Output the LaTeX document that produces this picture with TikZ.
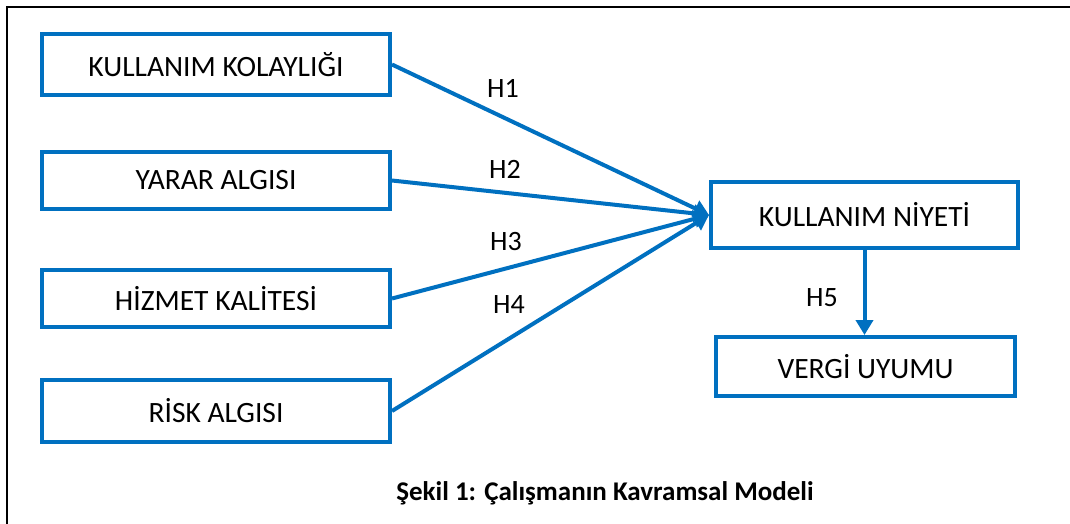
\documentclass[tikz,border=0pt]{standalone}
\usepackage{fontspec}
\setmainfont{Carlito}
\usetikzlibrary{arrows.meta}
\definecolor{boxblue}{RGB}{0,112,192}
\tikzset{
  box/.style={draw=boxblue, line width=4pt, fill=white, minimum width=348pt, inner sep=0pt, font=\fontsize{29.5}{33}\selectfont, text=black},
  link/.style={draw=boxblue, line width=4pt, -{Triangle[length=15pt,width=17pt]}},
  hlabel/.style={font=\fontsize{28}{31}\selectfont, text=black, inner sep=0pt},
}
\begin{document}
\begin{tikzpicture}[x=1pt,y=-1pt]
\useasboundingbox (0,0) rectangle (1070,523);
\fill[white] (0,0) rectangle (1070,523);
\draw[black, line width=2.5pt] (7,540) -- (7,7) -- (1090,7);
\node[box, minimum height=61pt] (k1) at (216,64.5) {KULLANIM KOLAYLIĞI};
\node[box, minimum height=57pt] (k2) at (216,180.5) {YARAR ALGISI};
\node[box, minimum height=57pt] (k3) at (216,298.5) {HİZMET KALİTESİ};
\node[box, minimum height=62pt] (k4) at (216,411) {RİSK ALGISI};
\node[box, minimum width=307pt, minimum height=66pt] (ny) at (864.5,215) {KULLANIM NİYETİ};
\node[box, minimum width=299pt, minimum height=59pt] (vu) at (865.5,366.5) {VERGİ UYUMU};
\draw[link] (k1.east) -- (ny.west);
\draw[link] (k2.east) -- (ny.west);
\draw[link] (k3.east) -- (ny.west);
\draw[link] (k4.east) -- (ny.west);
\draw[link] (ny.south) -- (ny.south |- vu.north);
\node[hlabel] (h1) at (503,88) {H1};
\node[hlabel] (h2) at (505,169) {H2};
\node[hlabel] (h3) at (506,242) {H3};
\node[hlabel] (h4) at (509,305) {H4};
\node[hlabel] (h5) at (822,298) {H5};
\node[font=\bfseries\fontsize{27}{30}\selectfont, inner sep=0pt] (cap) at (605,493) {Şekil 1: Çalışmanın Kavramsal Modeli};
\end{tikzpicture}
\end{document}
